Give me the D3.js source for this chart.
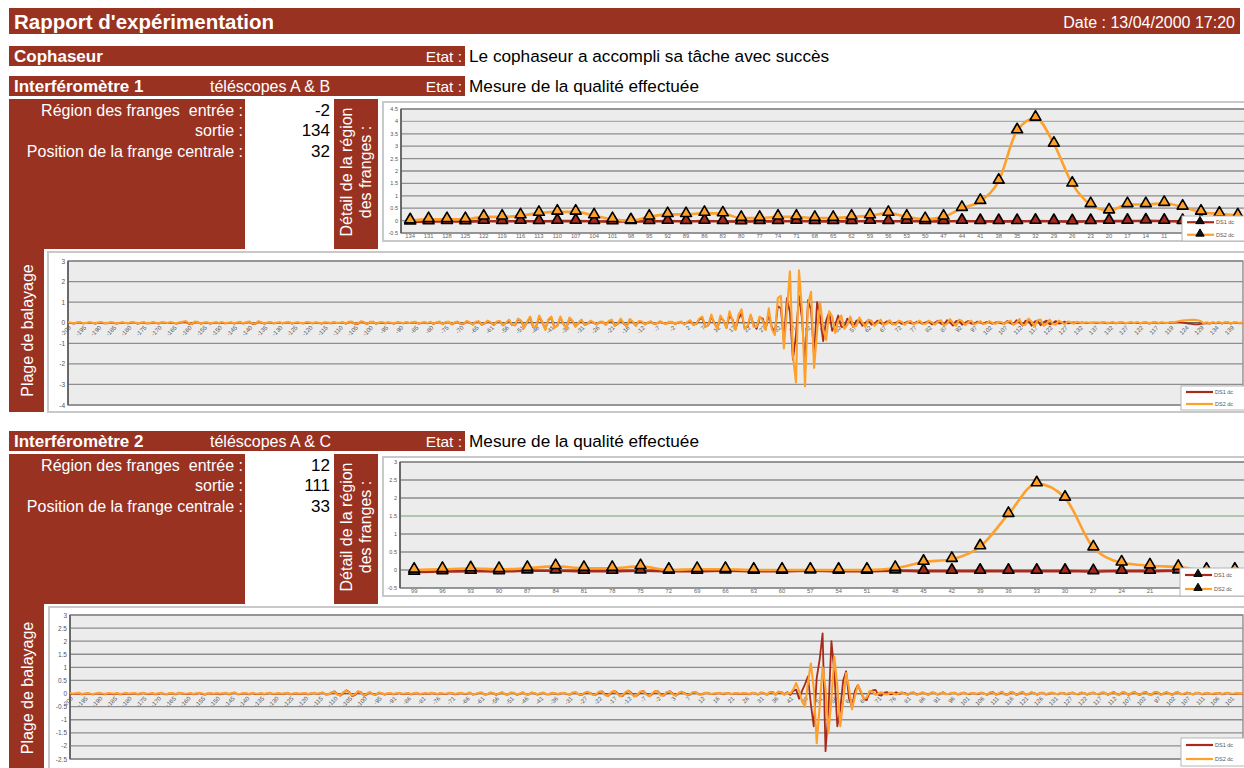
<!DOCTYPE html>
<html>
<head>
<meta charset="utf-8">
<script src="https://cdn.jsdelivr.net/npm/d3@7"></script>
<style>
  body { margin: 0; background: #fff; }
  svg { font-family: "Liberation Sans", Arial, sans-serif; display: block; }
  text { white-space: pre; }
</style>
</head>
<body>
<svg id="page" width="1244" height="768"></svg>
<script>
// ---------- interféromètre 1 : détail de la région des franges
const det1Labels = [134,131,128,125,122,119,116,113,110,107,104,101,98,95,92,89,86,83,80,77,74,71,68,65,62,59,56,53,50,47,44,41,38,35,32,29,26,23,20,17,14,11,8,5,2,-1];
const det1DS1 = [-0.05,-0.04,-0.03,-0.04,-0.02,-0.03,-0.02,-0.03,-0.02,-0.02,
  -0.03,-0.04,-0.03,-0.03,-0.02,-0.03,-0.02,-0.03,-0.04,-0.03,
  -0.03,-0.02,-0.03,-0.03,-0.03,-0.02,-0.03,-0.02,-0.03,-0.03,
  -0.02,-0.03,-0.03,-0.03,-0.02,-0.03,-0.04,-0.03,-0.02,-0.02,
  -0.01,-0.02,-0.03,-0.02,-0.03,-0.04];
const det1DS2 = [0.0,0.05,0.05,0.05,0.15,0.15,0.2,0.3,0.35,0.35,
  0.2,0.05,0.0,0.15,0.25,0.25,0.3,0.28,0.1,0.1,
  0.15,0.15,0.1,0.1,0.15,0.2,0.3,0.15,0.05,0.15,
  0.5,0.78,1.6,3.63,4.14,3.09,1.48,0.65,0.4,0.65,
  0.65,0.7,0.55,0.35,0.27,0.2];
const det1YTicks = [-0.5,0,0.5,1,1.5,2,2.5,3,3.5,4,4.5];

// ---------- interféromètre 1 : plage de balayage
const scan1Labels = [-200,-195,-190,-185,-180,-175,-170,-165,-160,-155,
  -150,-145,-140,-135,-130,-125,-120,-115,-110,-105,
  -100,-95,-90,-85,-80,-75,-70,-65,-61,-56,
  -51,-46,-41,-36,-31,-26,-21,-16,-12,-7,
  -2,2,7,12,17,22,27,32,37,42,
  47,52,57,62,67,72,77,82,87,92,
  97,102,107,112,117,122,127,132,137,132,
  127,122,117,119,124,129,134,139];
const scan1DS1 = [
  0,-0.02,-0.04,0,0.01,-0.03,-0.02,0.01,-0.01,-0.04,
  -0.01,0.01,-0.03,-0.03,0.01,-0.01,-0.04,-0.02,0.01,-0.02,
  -0.03,0.01,0,-0.04,-0.02,0.02,-0.03,-0.03,0.01,-0.01,
  -0.04,0.01,-0.01,-0.02,0.01,-0.02,-0.04,0,0.03,0.05,
  -0.05,-0.07,0.03,0.02,-0.05,-0.01,0,-0.04,-0.02,0.01,
  -0.03,0.01,-0.03,-0.02,0.01,-0.04,-0.01,0.02,-0.04,0.01,
  0.04,-0.05,-0.06,0.05,0,-0.05,-0.01,0.02,-0.03,-0.02,
  0,-0.03,-0.01,0.02,-0.04,-0.02,0.01,-0.02,-0.03,0.01,
  -0.01,-0.03,0.01,-0.02,-0.04,0,-0.01,-0.03,0.02,-0.02,
  -0.02,0.01,-0.05,0.03,0.04,-0.06,-0.05,0.05,0.01,-0.07,
  0.02,0.03,-0.05,-0.01,0.01,-0.03,0,-0.02,-0.04,0.01,
  -0.01,-0.03,0.02,-0.02,0,0.02,-0.04,-0.02,0.02,-0.03,
  0.02,-0.06,0,0.04,-0.07,0.01,0.03,-0.08,-0.01,0.04,
  -0.06,-0.05,0.06,0,-0.09,0.03,0.05,-0.1,-0.04,0.08,
  0,-0.11,0.04,0.06,-0.13,-0.02,0.12,-0.11,-0.13,0.16,
  0.08,-0.22,0.02,0.25,-0.22,-0.18,0.28,0.02,-0.3,0.12,
  0.25,-0.22,-0.15,0.25,-0.06,-0.26,0.2,0.08,-0.18,-0.02,
  0.12,-0.1,-0.06,0.08,0,-0.09,0.03,0.04,-0.1,0.06,
  0.12,-0.14,-0.06,0.16,-0.06,-0.16,0.15,0.03,-0.14,0.06,
  0.04,-0.08,0,0.05,-0.07,-0.03,0.05,-0.02,-0.06,0.03,
  0.02,-0.06,0,0.04,-0.08,0.01,0.1,-0.1,-0.06,0.16,
  0.22,-0.2,-0.12,0.3,-0.02,-0.28,0.25,0.12,-0.25,0.35,
  0.15,-0.3,0.2,0.45,-0.25,-0.2,0.35,-0.1,-0.3,0.25,
  0.2,-0.3,0.4,-0.2,-0.5,0.8,0.7,-0.9,1.2,0.5,
  -1.8,-0.6,1.3,0.2,-2.0,1.1,0.6,-1.6,1.0,0.3,
  -0.9,0.1,0.5,-0.4,-0.1,0.35,-0.2,-0.2,0.2,0.05,
  -0.2,0.1,0.12,-0.15,0,0.12,-0.1,-0.05,0.1,-0.02,
  -0.08,0.06,0.05,-0.08,0,0.07,-0.06,-0.02,0.06,-0.02,
  -0.06,0.05,0.03,-0.07,0.02,0.08,-0.08,0,0.1,-0.05,
  -0.1,0.12,0.02,-0.14,0.08,0.1,-0.1,0,0.08,-0.04,
  -0.06,0.05,0.02,-0.06,0.03,0.04,-0.05,0.01,0.03,-0.03,
  -0.04,0.08,-0.02,-0.08,0.12,0.02,-0.14,0.1,0.08,-0.15,
  0.05,0.1,-0.12,0.02,0.1,-0.08,-0.02,0.08,-0.04,-0.02,
  0.05,-0.03,-0.01,0.02,-0.02,-0.01,0.01,-0.02,-0.01,0,
  -0.01,-0.02,0,0.01,-0.03,-0.01,0.01,-0.03,0,0.01,
  -0.03,-0.01,0.01,-0.02,0.01,-0.03,0,0.01,-0.04,0,
  0.01,-0.03,0.01,-0.02,-0.02,0.01,0,0.02,0.02,0,
  -0.02,-0.04,-0.06,-0.08,-0.08,-0.06,-0.04,-0.02,-0.05,0.01,
  -0.03,0.02,-0.04,0.01,0.01,-0.05,0.01,-0.01,-0.03,0.01];
const scan1DS2 = [
  0.02,0,-0.03,0.01,0.03,-0.02,-0.01,0.02,0,-0.03,
  0.01,0.03,-0.01,-0.02,0.02,0.01,-0.03,0,0.02,-0.01,
  -0.02,0.03,0.01,-0.02,0,0.03,-0.02,-0.01,0.02,0,
  -0.03,0.02,0.01,-0.01,0.03,0,-0.02,0.02,0.05,0.08,
  -0.02,-0.06,0.06,0.03,-0.04,0.01,0.02,-0.03,0,0.02,
  -0.01,0.03,-0.02,0,0.02,-0.03,0.01,0.04,-0.03,0.02,
  0.06,-0.03,-0.05,0.07,0.02,-0.04,0.01,0.03,-0.02,0,
  0.02,-0.02,0.01,0.03,-0.03,0,0.02,-0.01,-0.02,0.03,
  0.01,-0.02,0.02,0,-0.03,0.02,0.01,-0.02,0.03,-0.01,
  0,0.03,-0.04,0.05,0.06,-0.05,-0.03,0.07,0.03,-0.06,
  0.04,0.05,-0.04,0.01,0.03,-0.02,0.02,0,-0.03,0.02,
  0.01,-0.02,0.03,-0.01,0.02,0.04,-0.03,0,0.03,-0.02,
  0.04,-0.05,0.02,0.06,-0.06,0.03,0.05,-0.07,0.01,0.06,
  -0.05,-0.04,0.08,0.02,-0.08,0.05,0.07,-0.09,-0.02,0.1,
  0.02,-0.1,0.06,0.08,-0.12,0,0.15,-0.1,-0.12,0.2,
  0.1,-0.25,0.05,0.3,-0.2,-0.2,0.35,0.05,-0.35,0.15,
  0.3,-0.25,-0.15,0.3,-0.05,-0.3,0.25,0.1,-0.2,0,
  0.15,-0.1,-0.05,0.1,0.02,-0.08,0.05,0.06,-0.1,0.08,
  0.15,-0.15,-0.05,0.2,-0.05,-0.18,0.18,0.05,-0.15,0.08,
  0.06,-0.08,0.02,0.07,-0.06,-0.02,0.07,0,-0.06,0.05,
  0.04,-0.05,0.02,0.06,-0.08,0.03,0.12,-0.1,-0.05,0.2,
  0.3,-0.2,-0.1,0.4,-0.05,-0.3,0.35,0.1,-0.25,0.55,
  0.1,-0.35,0.4,0.65,-0.3,-0.15,0.4,-0.2,-0.2,0.3,
  0.1,-0.35,0.7,-0.3,-0.6,1.2,1.3,-1.25,0.6,2.5,
  -1.6,-2.9,2.55,0.6,-3.1,0.9,1.5,-2.2,-0.4,1.0,
  -0.3,-0.85,0.55,0.3,-0.5,0.1,0.35,-0.3,-0.1,0.3,
  -0.2,-0.15,0.25,0,-0.2,0.15,0.1,-0.15,0,0.15,
  -0.1,-0.05,0.12,-0.05,-0.1,0.1,0.05,-0.1,0.03,0.08,
  -0.08,0,0.1,-0.06,-0.05,0.1,0.02,-0.1,0.06,0.12,
  -0.12,-0.05,0.18,-0.02,-0.15,0.15,0.08,-0.12,0.02,0.1,
  -0.08,-0.02,0.08,-0.05,-0.04,0.08,0,-0.06,0.05,0.03,
  -0.06,0.04,0.1,-0.1,-0.02,0.18,-0.12,-0.1,0.2,0.05,
  -0.18,0.12,0.15,-0.15,-0.05,0.15,-0.05,-0.1,0.1,0.02,
  -0.08,0.06,0.02,-0.05,0.04,0.01,-0.03,0.02,0,-0.02,
  0.02,0.01,-0.02,0.03,-0.01,0,0.02,-0.02,0.01,0.03,
  -0.02,0,0.02,-0.01,0.03,-0.02,0.01,0.02,-0.03,0.01,
  0.03,-0.02,0.02,0,-0.01,0.03,0.02,0.05,0.08,0.1,
  0.12,0.13,0.14,0.14,0.12,0.08,-0.03,0.02,-0.04,0.03,
  -0.02,0.04,-0.03,0.02,0.03,-0.04,0.02,0.01,-0.02,0.02];
const scan1YTicks = [-4,-3,-2,-1,0,1,2,3];

// ---------- interféromètre 2 : détail de la région des franges
const det2Labels = [99,96,93,90,87,84,81,78,75,72,69,66,63,60,57,54,51,48,45,42,39,36,33,30,27,24,21,18,15,12];
const det2DS1 = [-0.06,-0.04,-0.03,-0.04,-0.02,-0.02,-0.03,-0.03,-0.02,-0.03,
  -0.03,-0.02,-0.03,-0.03,-0.02,-0.03,-0.03,-0.02,-0.03,-0.03,
  -0.03,-0.03,-0.03,-0.03,-0.04,-0.03,-0.03,-0.02,-0.02,-0.02];
const det2DS2 = [0,0.02,0.04,0.02,0.05,0.1,0.05,0.05,0.1,0,
  0.02,0.02,0,0,0,0,0,0.05,0.22,0.3,
  0.65,1.55,2.4,2.0,0.62,0.2,0.12,0.08,0,0];
const det2YTicks = [-0.5,0,0.5,1,1.5,2,2.5,3];

// ---------- interféromètre 2 : plage de balayage
const scan2Labels = [-200,-195,-190,-185,-180,-175,-170,-165,-160,-155,
  -150,-145,-140,-135,-130,-125,-120,-115,-110,-105,
  -100,-95,-91,-86,-81,-76,-71,-66,-61,-56,
  -51,-46,-41,-36,-31,-27,-22,-17,-12,-7,
  -2,3,7,12,16,21,26,31,36,41,
  46,51,56,61,66,71,76,81,86,91,
  96,101,106,111,116,121,126,131,127,122,
  117,112,107,102,97,102,107,111,106,101];
const scan2DS1 = [
  0,-0.02,-0.01,0.01,-0.03,-0.01,0.01,-0.02,-0.03,0,
  0.01,-0.02,-0.03,0,-0.01,-0.03,0.01,-0.03,-0.02,0.01,
  -0.02,-0.01,0.01,-0.03,0,0.02,-0.02,-0.02,0.01,-0.03,
  -0.01,0.02,-0.02,-0.03,0.01,0,-0.03,0.02,0.01,-0.02,
  -0.02,0.01,-0.03,0,0.02,-0.02,-0.04,0.01,0,-0.02,
  0.01,-0.03,0,0.02,-0.03,0.01,0.03,-0.03,-0.02,0.01,
  0,-0.03,0.02,-0.02,-0.02,0.01,-0.03,0,0.02,-0.02,
  -0.01,0.01,-0.02,0,0.02,-0.03,-0.01,0.01,-0.02,0,
  0.01,-0.03,0,0.02,-0.02,0.01,0.03,-0.04,-0.03,0.04,
  0.08,-0.02,-0.08,0.02,0.12,0.06,-0.1,-0.05,0.07,0.05,
  -0.08,-0.03,0.05,-0.02,-0.05,0.03,0.01,-0.04,0,0.01,
  -0.03,0,0.02,-0.02,-0.01,0.01,-0.03,0,0.02,-0.03,
  -0.01,0.01,-0.02,0.02,0,-0.03,0.01,-0.01,-0.02,0.02,
  0.01,-0.03,0,0.02,-0.02,-0.01,0.03,-0.04,-0.02,0.02,
  0.03,-0.04,-0.03,0.03,0.01,-0.05,0,0.04,-0.03,-0.04,
  0.03,0.02,-0.05,-0.01,0.04,-0.03,-0.04,0.03,0.01,-0.04,
  0,0.03,-0.03,-0.03,0.02,0,-0.03,0.01,0.02,-0.02,
  -0.04,0.02,0.04,-0.03,-0.06,0.01,0.06,0.02,-0.05,-0.04,
  0.05,0.08,-0.03,-0.09,0,0.1,0.05,-0.08,-0.09,0.03,
  0.11,0.02,-0.1,-0.07,0.05,0.1,-0.01,-0.1,-0.03,0.08,
  0.08,-0.05,-0.08,0.03,0.09,0,-0.08,-0.01,0.07,0.02,
  -0.05,-0.04,0.04,0.04,-0.03,-0.03,0.02,0.03,-0.02,-0.01,
  0.01,0.02,-0.02,0.01,0.02,-0.02,0,0.01,-0.02,0.01,
  0,-0.03,0.02,0.01,-0.04,0.03,0.02,-0.05,0.04,0.06,
  -0.04,0.06,0.05,-0.03,0.05,-0.05,0.1,0.15,-0.2,0.1,
  0.35,0.65,-0.4,-1.25,0.6,1.3,2.3,-2.2,-0.6,2.0,
  0.8,-1.25,-0.6,0.5,0.85,-0.2,-0.5,0.1,0.33,0.05,
  -0.2,-0.25,0.05,0.12,0.14,-0.05,-0.08,0.03,0.05,-0.03,
  0,0.05,-0.02,0.03,0.02,-0.05,0.02,0.04,-0.04,-0.01,
  0.04,0,-0.05,0.03,0.03,-0.04,0,0.05,-0.02,-0.02,
  0.02,0.03,-0.04,0,0.04,-0.01,-0.02,0.02,0,-0.01,
  0.03,0,-0.05,0.03,0.05,-0.04,0,0.07,-0.03,-0.04,
  0.05,0.03,-0.06,0.01,0.06,-0.03,-0.03,0.04,0.02,-0.05,
  0.02,0.03,-0.04,0,0.03,0,-0.03,0.02,0.02,-0.03,
  0.01,0.04,-0.01,-0.03,0.03,0.02,-0.04,0.01,0.04,-0.01,
  -0.03,0.03,0.03,-0.05,0.01,0.06,-0.02,-0.04,0.04,0.03,
  -0.05,0,0.07,-0.01,-0.06,0.03,0.06,-0.03,-0.04,0.05,
  0.04,-0.04,-0.01,0.05,0,-0.05,0.03,0.04,-0.02,-0.02,
  0.03,0.01,-0.03,0.02,0.03,-0.03,0,0.02,-0.01,-0.01,
  0.01,0.02,-0.03,0.01,0.02,-0.02,-0.01,0.01,0,0];
const scan2DS2 = [
  0.02,-0.01,0.01,0.03,-0.02,0,0.02,-0.01,-0.02,0.01,
  0.03,0,-0.02,0.02,0.01,-0.01,0.02,-0.02,0,0.03,
  -0.01,0.01,0.02,-0.02,0.01,0.03,-0.01,0,0.02,-0.02,
  0.01,0.03,-0.01,-0.02,0.02,0.01,-0.02,0.03,0.02,-0.01,
  0,0.02,-0.02,0.01,0.03,0,-0.03,0.02,0.01,-0.01,
  0.02,-0.01,0.01,0.03,-0.02,0.02,0.04,-0.02,-0.01,0.02,
  0.01,-0.02,0.03,0,-0.01,0.02,-0.02,0.01,0.03,-0.01,
  0,0.02,-0.01,0.01,0.03,-0.02,0,0.02,-0.01,0.01,
  0.02,-0.02,0.01,0.03,-0.01,0.02,0.04,-0.03,-0.02,0.05,
  0.06,-0.04,-0.06,0.05,0.1,0.04,-0.08,-0.02,0.09,0.03,
  -0.07,0,0.06,-0.03,-0.04,0.04,0.02,-0.03,0.01,0.02,
  -0.02,0.01,0.03,-0.01,0,0.02,-0.02,0.01,0.03,-0.02,
  0,0.02,-0.01,0.03,0.01,-0.02,0.02,0,-0.01,0.03,
  0.02,-0.02,0.01,0.03,-0.01,0,0.04,-0.03,-0.01,0.03,
  0.04,-0.03,-0.02,0.04,0.02,-0.04,0.01,0.05,-0.02,-0.03,
  0.04,0.03,-0.04,0,0.05,-0.02,-0.03,0.04,0.02,-0.03,
  0.01,0.04,-0.02,-0.02,0.03,0.01,-0.02,0.02,0.03,-0.01,
  -0.03,0.04,0.05,-0.02,-0.05,0.03,0.07,0,-0.06,-0.02,
  0.08,0.06,-0.06,-0.08,0.04,0.1,0.02,-0.1,-0.06,0.06,
  0.1,-0.02,-0.12,-0.04,0.08,0.09,-0.04,-0.1,0,0.1,
  0.06,-0.08,-0.06,0.06,0.08,-0.03,-0.08,0.02,0.07,0,
  -0.06,-0.02,0.06,0.03,-0.04,-0.02,0.03,0.02,-0.02,0,
  0.02,0.01,-0.01,0.02,0.01,-0.02,0.01,0.02,-0.01,0.02,
  0.01,-0.02,0.03,0.02,-0.03,0.04,0.03,-0.05,0.06,0.05,
  -0.06,0.08,0.04,-0.05,0.03,0,0.15,0.4,0.1,-0.3,
  -0.5,0.4,1.15,0.2,-1.9,-0.5,1.0,0.2,-1.5,-0.2,
  1.4,0.3,-1.25,-0.3,0.78,0.2,-0.6,-0.1,0.33,0.1,
  -0.2,-0.15,0.1,0.08,-0.05,0,0.05,-0.02,-0.03,0.04,
  0.02,-0.04,0.01,0.05,-0.02,-0.04,0.04,0.03,-0.05,0,
  0.05,-0.02,-0.04,0.04,0.02,-0.03,0.01,0.04,-0.03,-0.01,
  0.03,0.02,-0.03,0.01,0.03,-0.02,0,0.03,-0.01,0.01,
  0.04,-0.02,-0.03,0.05,0.03,-0.05,0.02,0.06,-0.04,-0.02,
  0.06,0.01,-0.05,0.03,0.05,-0.04,-0.01,0.05,0,-0.04,
  0.03,0.02,-0.03,0.01,0.04,-0.02,-0.02,0.03,0.01,-0.02,
  0.02,0.03,-0.02,-0.01,0.04,0.01,-0.03,0.02,0.03,-0.02,
  -0.01,0.04,0.02,-0.04,0.02,0.05,-0.03,-0.02,0.05,0.02,
  -0.04,0.02,0.06,-0.02,-0.05,0.04,0.05,-0.04,-0.02,0.06,
  0.03,-0.05,0.01,0.06,-0.02,-0.04,0.04,0.03,-0.03,0,
  0.04,-0.01,-0.03,0.03,0.02,-0.02,0.01,0.03,-0.02,0,
  0.02,0.01,-0.02,0.02,0.03,-0.01,0,0.02,-0.01,0.01];
const scan2YTicks = [-2.5,-2,-1.5,-1,-0.5,0,0.5,1,1.5,2,2.5,3];

const seriesNames = ["DS1 dc", "DS2 dc"];

// ---------- style
const RED = "#9a3222",
  DS1C = "#a82a1c",
  DS2C = "#ffa02a",
  GRID = "#8e8e8e",
  PLOTBG = "#ececec";

const svg = d3.select("#page");

function rect(x, y, w, h, fill){
  return svg.append("rect").attr("x", x).attr("y", y).attr("width", w).attr("height", h).attr("fill", fill);
}

function txt(parent, x, y, s, opts = {}){
  return parent.append("text")
    .attr("x", x).attr("y", y)
    .attr("font-size", opts.size || 16)
    .attr("font-weight", opts.bold ? "bold" : null)
    .attr("fill", opts.fill || "#fff")
    .attr("text-anchor", opts.anchor || "start")
    .attr("dominant-baseline", "central")
    .text(s);
}

// ---------- bandeaux
rect(9, 8, 1231, 26, RED);
txt(svg, 14, 21, "Rapport d'expérimentation", {size: 20.5, bold: true});
txt(svg, 1235, 22, "Date : 13/04/2000 17:20", {size: 16, anchor: "end"});

rect(9, 46, 456, 20, RED);
txt(svg, 14, 56, "Cophaseur", {size: 17, bold: true});
txt(svg, 462, 56, "Etat :", {size: 15.5, anchor: "end"});
txt(svg, 469, 56, "Le cophaseur a accompli sa tâche avec succès", {size: 17.2, fill: "#000"});

function sectionHeader(y, title, telescopes, etat){
  rect(9, y, 456, 20, RED);
  txt(svg, 14, y + 10, title, {size: 17, bold: true});
  txt(svg, 210, y + 10, telescopes, {size: 16});
  txt(svg, 462, y + 10, "Etat :", {size: 15.5, anchor: "end"});
  txt(svg, 469, y + 10, etat, {size: 17.2, fill: "#000"});
}

function infoPanel(y, vals){
  rect(9, y, 236, 150, RED);
  rect(334, y, 44, 150, RED);
  const rows = ["Région des franges  entrée :", "sortie :", "Position de la frange centrale :"];
  rows.forEach((r, i) => {
    txt(svg, 243, y + 11 + i * 20.5, r, {size: 16, anchor: "end"});
    txt(svg, 330, y + 11 + i * 20.5, vals[i], {size: 17, fill: "#000", anchor: "end"});
  });
  const cx = 356, cy = y + 73;
  const g = svg.append("g").attr("transform", `translate(${cx},${cy}) rotate(-90)`);
  txt(g, 0, -9.5, "Détail de la région", {size: 16, anchor: "middle"});
  txt(g, 0, 9.5, "des franges :", {size: 16, anchor: "middle"});
}

function plagePanel(y, h){
  rect(9, y, 35, h, RED);
  const g = svg.append("g").attr("transform", `translate(27,${y + h / 2}) rotate(-90)`);
  txt(g, 0, 0, "Plage de balayage", {size: 16, anchor: "middle"});
}

function legend(x, y, w, h, withMarkers){
  const g = svg.append("g");
  g.append("rect").attr("x", x).attr("y", y).attr("width", w).attr("height", h)
    .attr("fill", "#fff").attr("stroke", "#b5b5b5").attr("stroke-width", 1);
  [DS1C, DS2C].forEach((c, i) => {
    const yy = y + h * (i + 0.5) / 2;
    g.append("line").attr("x1", x + 5).attr("x2", x + 32).attr("y1", yy).attr("y2", yy)
      .attr("stroke", c).attr("stroke-width", 2.2);
    if(withMarkers){
      g.append("path").attr("d", d3.symbol(d3.symbolTriangle, 30)())
        .attr("transform", `translate(${x + 18},${yy - 1})`)
        .attr("fill", "#111").attr("stroke", "#000");
    }
    txt(g, x + 34, yy, seriesNames[i], {size: 5.5, fill: "#555"});
  });
}

function chartFrame(box, plot){
  svg.append("rect").attr("x", box.x).attr("y", box.y).attr("width", box.w).attr("height", box.h)
    .attr("fill", "#fff").attr("stroke", "#c9c9c9").attr("stroke-width", 2);
  svg.append("rect").attr("x", plot.x).attr("y", plot.y).attr("width", plot.w).attr("height", plot.h)
    .attr("fill", PLOTBG).attr("stroke", "#7e7e7e").attr("stroke-width", 1.2);
}

function yGrid(g, y, ticks, plot, fs, greenTick){
  g.selectAll(".grid").data(ticks).join("line")
    .attr("x1", plot.x).attr("x2", plot.x + plot.w)
    .attr("y1", d => y(d)).attr("y2", d => y(d))
    .attr("stroke", d => d === greenTick ? "#9db79b" : GRID).attr("stroke-width", 1.3);
  g.selectAll(".ylab").data(ticks).join("text")
    .attr("x", plot.x - 3).attr("y", d => y(d))
    .attr("text-anchor", "end").attr("dominant-baseline", "central")
    .attr("font-size", fs).attr("fill", "#555")
    .text(d => d);
  g.append("line").attr("x1", plot.x).attr("x2", plot.x)
    .attr("y1", plot.y).attr("y2", plot.y + plot.h)
    .attr("stroke", "#555").attr("stroke-width", 1.5);
}

// ---------- graphique de détail (lignes + triangles)
function drawDetail(box, plot, labels, ds1, ds2, yTicks, greenTick, leg){
  chartFrame(box, plot);
  const g = svg.append("g");
  const x = d3.scalePoint().domain(d3.range(labels.length)).range([plot.x, plot.x + plot.w]).padding(0.5);
  const y = d3.scaleLinear().domain(d3.extent(yTicks)).range([plot.y + plot.h, plot.y]);
  yGrid(g, y, yTicks, plot, 5.5, greenTick);

  // the legend box hides the last labels, as in the original sheet
  g.selectAll(".xlab").data(labels.filter((d, i) => x(i) < leg.x - 6)).join("text")
    .attr("x", (d, i) => x(i)).attr("y", plot.y + plot.h + 3)
    .attr("text-anchor", "middle").attr("dominant-baseline", "central")
    .attr("font-size", 5.8).attr("fill", "#666").text(d => d);

  const line = d3.line().x((d, i) => x(i)).y(d => y(d)).curve(d3.curveMonotoneX);
  const tri = d3.symbol(d3.symbolTriangle, 52)();
  [[ds1, DS1C], [ds2, DS2C]].forEach(([vals, c]) => {
    g.append("path").datum(vals).attr("d", line)
      .attr("fill", "none").attr("stroke", c).attr("stroke-width", 2.6);
    g.selectAll(null).data(vals).join("path")
      .attr("d", tri)
      .attr("transform", (d, i) => `translate(${x(i)},${y(d) - 1})`)
      .attr("fill", c).attr("stroke", "#000").attr("stroke-width", 1.6)
      .attr("stroke-linejoin", "round");
  });
  legend(leg.x, leg.y, leg.w, leg.h, true);
}

// ---------- graphique de balayage
function drawScan(box, plot, labels, ds1, ds2, yTicks, leg){
  chartFrame(box, plot);
  const g = svg.append("g");
  const perLabel = ds1.length / labels.length;
  const x = d3.scaleLinear().domain([0, ds1.length - 1]).range([plot.x, plot.x + plot.w]);
  const y = d3.scaleLinear().domain(d3.extent(yTicks)).range([plot.y + plot.h, plot.y]);
  yGrid(g, y, yTicks, plot, 6.5, null);

  g.append("line").attr("x1", plot.x).attr("x2", plot.x + plot.w)
    .attr("y1", y(0)).attr("y2", y(0)).attr("stroke", "#666").attr("stroke-width", 1.3);

  g.selectAll(".xlab").data(labels).join("text")
    .attr("transform", (d, i) => `translate(${x(i * perLabel) + 2},${y(0) + 4}) rotate(-45)`)
    .attr("text-anchor", "end").attr("dominant-baseline", "central")
    .attr("font-size", 6).attr("fill", "#555").text(d => d);

  const line = d3.line().x((d, i) => x(i)).y(d => y(d));
  [[ds1, DS1C, 1.8], [ds2, DS2C, 2.1]].forEach(([vals, c, sw]) => {
    g.append("path").datum(vals).attr("d", line)
      .attr("fill", "none").attr("stroke", c).attr("stroke-width", sw)
      .attr("stroke-linejoin", "round");
  });
  legend(leg.x, leg.y, leg.w, leg.h, false);
}

// ---------- interféromètre 1
sectionHeader(76, "Interféromètre 1", "téléscopes A & B", "Mesure de la qualité effectuée");
infoPanel(99, ["-2", "134", "32"]);
plagePanel(249, 163);
drawDetail({x: 383, y: 102, w: 870, h: 139}, {x: 401, y: 109, w: 846, h: 124},
  det1Labels, det1DS1, det1DS2, det1YTicks, 4, {x: 1182, y: 216, w: 70, h: 25});
drawScan({x: 48, y: 252, w: 1205, h: 160}, {x: 68, y: 261, w: 1175, h: 144},
  scan1Labels, scan1DS1, scan1DS2, scan1YTicks, {x: 1181, y: 386, w: 70, h: 24});

// ---------- interféromètre 2
sectionHeader(431, "Interféromètre 2", "téléscopes A & C", "Mesure de la qualité effectuée");
infoPanel(454, ["12", "111", "33"]);
plagePanel(603, 170);
drawDetail({x: 383, y: 457, w: 870, h: 139}, {x: 400, y: 462, w: 849, h: 126},
  det2Labels, det2DS1, det2DS2, det2YTicks, 1.5, {x: 1180, y: 568, w: 72, h: 28});
drawScan({x: 49, y: 607, w: 1205, h: 170}, {x: 70, y: 615, w: 1173, h: 144},
  scan2Labels, scan2DS1, scan2DS2, scan2YTicks, {x: 1181, y: 738, w: 70, h: 28});
</script>
</body>
</html>
